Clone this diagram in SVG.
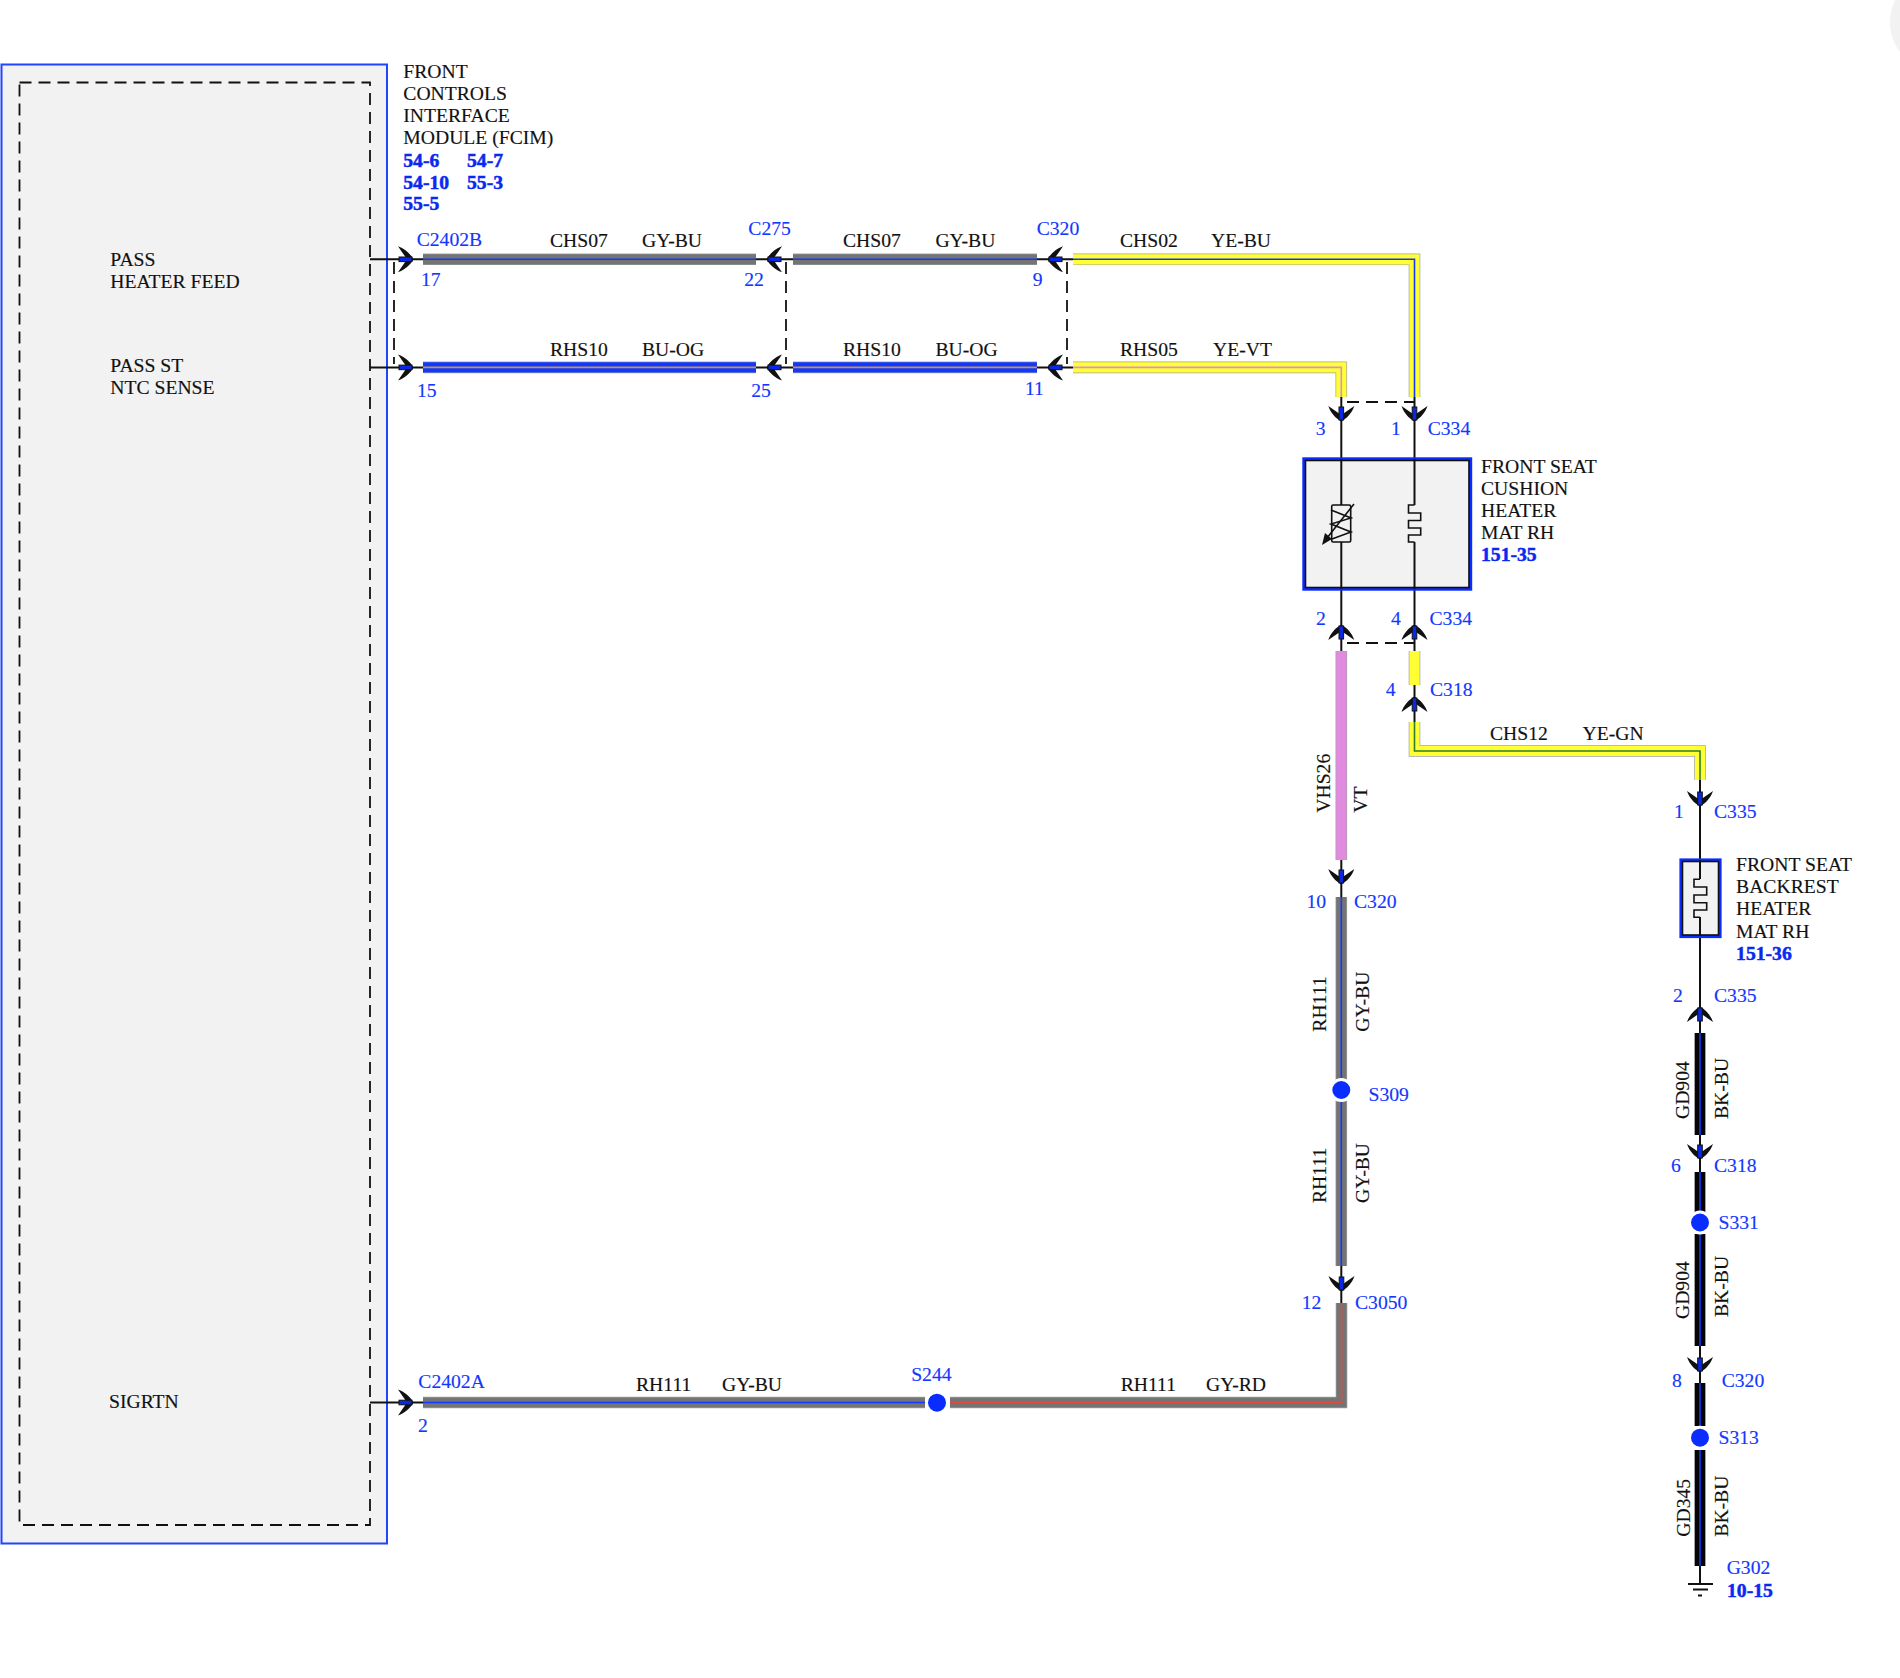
<svg xmlns="http://www.w3.org/2000/svg" width="1900" height="1678" viewBox="0 0 1900 1678">
<style>
text{font-family:"Liberation Serif","Times New Roman",serif;font-size:19.65px;fill:#111;stroke:#111;stroke-width:.15}
.b{fill:#1238ff;stroke:#1238ff}
.r{fill:#0a28f0;stroke:#0a28f0;stroke-width:.5;font-weight:bold}
polyline,path,line{fill:none}
.o{stroke:#a3a3a3;stroke-width:11.6;stroke-linejoin:miter}
.m{stroke-width:10.2;stroke-linejoin:miter}
.s{stroke-width:1.6;stroke-linejoin:miter}
.gy{stroke:#747474}.bu{stroke:#1238ff}.ye{stroke:#ffff33}.pk{stroke:#e08ae0}.vt{stroke:#e08ae0}.og{stroke:#c8963c}.gn{stroke:#2e7d32}.rd{stroke:#e2483c}.bk{stroke:#050505}
.t{stroke:#111;stroke-width:2}
.d{stroke:#111;stroke-width:1.8;stroke-dasharray:12 7}
.splice{fill:#0a2cff;stroke:#fff;stroke-width:3}
.pin{stroke:#111;stroke-width:1.6;fill:none}
</style>
<defs>
<g id="conn">
<path d="M1.5,0 C-2,-6 -7,-10.5 -14,-13 C-11,-8.5 -8,-4.5 -5,0 C-8,4.5 -11,8.5 -14,13 C-7,10.5 -2,6 1.5,0Z" style="fill:#111"/>
<rect x="-13" y="-2.3" width="13" height="4.6" fill="#0a28e0" stroke="#111" stroke-width="1"/>
</g>
</defs>
<circle cx="1940" cy="22" r="50" fill="#f2f2f2"/>

<g id="fcim">
<rect x="1.5" y="64.5" width="385.5" height="1479" fill="#f2f2f2" stroke="#1f45ff" stroke-width="2"/>
<rect x="19.5" y="82.5" width="350.5" height="1442.5" class="d" fill="none"/>
<g transform="translate(0 -.8)">
<text x="110.3" y="266.7">PASS</text>
<text x="110.3" y="288.5">HEATER FEED</text>
<text x="110.3" y="372.7">PASS ST</text>
<text x="110.3" y="395">NTC SENSE</text>
<text x="109" y="1409">SIGRTN</text>
<text x="403.3" y="78.5">FRONT</text>
<text x="403.3" y="100.5">CONTROLS</text>
<text x="403.3" y="122.5">INTERFACE</text>
<text x="403.3" y="145">MODULE (FCIM)</text>
<text class="r" x="403.3" y="167.5">54-6</text>
<text class="r" x="467" y="167.5">54-7</text>
<text class="r" x="403.3" y="189.5">54-10</text>
<text class="r" x="467" y="189.5">55-3</text>
<text class="r" x="403.3" y="211">55-5</text>
</g>
</g>

<g id="connectors">
<g id="thin-lines">
<line class="t" x1="370" y1="259.3" x2="423" y2="259.3"/>
<line class="t" x1="370" y1="367.4" x2="423" y2="367.4"/>
<line class="t" x1="370" y1="1402.5" x2="423" y2="1402.5"/>
<line class="t" x1="756" y1="259.3" x2="793" y2="259.3"/>
<line class="t" x1="756" y1="367.4" x2="793" y2="367.4"/>
<line class="t" x1="1037" y1="259.3" x2="1073" y2="259.3"/>
<line class="t" x1="1037" y1="367.4" x2="1073" y2="367.4"/>
<line class="t" x1="1341.3" y1="397" x2="1341.3" y2="505"/>
<line class="t" x1="1341.3" y1="542" x2="1341.3" y2="651"/>
<line class="t" x1="1414.5" y1="397" x2="1414.5" y2="505"/>
<line class="t" x1="1414.5" y1="542" x2="1414.5" y2="651"/>
<line class="t" x1="1414.5" y1="685" x2="1414.5" y2="722"/>
<line class="t" x1="1341.3" y1="860" x2="1341.3" y2="897"/>
<line class="t" x1="1341.3" y1="1266" x2="1341.3" y2="1303"/>
<line class="t" x1="1700" y1="780" x2="1700" y2="879"/>
<line class="t" x1="1700" y1="917" x2="1700" y2="1033"/>
<line class="t" x1="1700" y1="1135" x2="1700" y2="1172"/>
<line class="t" x1="1700" y1="1346" x2="1700" y2="1383"/>
<line class="t" x1="1700" y1="1566" x2="1700" y2="1584"/>
</g>
<g id="dashes">
<line class="d" x1="394" y1="262" x2="394" y2="364"/>
<line class="d" x1="786" y1="262" x2="786" y2="364"/>
<line class="d" x1="1067" y1="262" x2="1067" y2="364"/>
<line class="d" x1="1347" y1="402" x2="1414" y2="402"/>
<line class="d" x1="1347" y1="643" x2="1414" y2="643"/>
</g>
<g id="wires">
<polyline class="o" points="423,259.3 756,259.3"/><polyline class="m gy" points="423,259.3 756,259.3"/><polyline class="s bu" points="423,259.3 756,259.3"/>
<polyline class="o" points="793,259.3 1037,259.3"/><polyline class="m gy" points="793,259.3 1037,259.3"/><polyline class="s bu" points="793,259.3 1037,259.3"/>
<polyline class="o" points="1073,259.3 1414.5,259.3 1414.5,397"/><polyline class="m ye" points="1073,259.3 1414.5,259.3 1414.5,397"/><polyline class="s bu" points="1073,259.3 1414.5,259.3 1414.5,397"/>
<polyline class="o" points="423,367.4 756,367.4"/><polyline class="m bu" points="423,367.4 756,367.4"/><polyline class="s og" points="423,367.4 756,367.4"/>
<polyline class="o" points="793,367.4 1037,367.4"/><polyline class="m bu" points="793,367.4 1037,367.4"/><polyline class="s og" points="793,367.4 1037,367.4"/>
<polyline class="o" points="1073,367.4 1341.3,367.4 1341.3,397"/><polyline class="m ye" points="1073,367.4 1341.3,367.4 1341.3,397"/><polyline class="s pk" points="1073,367.4 1341.3,367.4 1341.3,397"/>
<polyline class="o" points="1341.3,651 1341.3,860"/><polyline class="m vt" points="1341.3,651 1341.3,860"/>
<polyline class="o" points="1414.5,651 1414.5,685"/><polyline class="m ye" points="1414.5,651 1414.5,685"/>
<polyline class="o" points="1414.5,722 1414.5,751 1700,751 1700,780"/><polyline class="m ye" points="1414.5,722 1414.5,751 1700,751 1700,780"/><polyline class="s gn" points="1414.5,722 1414.5,751 1700,751 1700,780"/>
<polyline class="o" points="1341.3,897 1341.3,1080"/><polyline class="m gy" points="1341.3,897 1341.3,1080"/><polyline class="s bu" points="1341.3,897 1341.3,1080"/>
<polyline class="o" points="1341.3,1100 1341.3,1266"/><polyline class="m gy" points="1341.3,1100 1341.3,1266"/><polyline class="s bu" points="1341.3,1100 1341.3,1266"/>
<polyline class="o" points="423,1402.5 925,1402.5"/><polyline class="m gy" points="423,1402.5 925,1402.5"/><polyline class="s bu" points="423,1402.5 925,1402.5"/>
<polyline class="o" points="950,1402.5 1341.5,1402.5 1341.5,1303"/><polyline class="m gy" points="950,1402.5 1341.5,1402.5 1341.5,1303"/><polyline class="s rd" points="950,1402.5 1341.5,1402.5 1341.5,1303"/>
<polyline class="o" points="1700,1033 1700,1135"/><polyline class="m bk" points="1700,1033 1700,1135"/><polyline class="s bu" points="1700,1033 1700,1135"/>
<polyline class="o" points="1700,1172 1700,1212"/><polyline class="m bk" points="1700,1172 1700,1212"/><polyline class="s bu" points="1700,1172 1700,1212"/>
<polyline class="o" points="1700,1234 1700,1346"/><polyline class="m bk" points="1700,1234 1700,1346"/><polyline class="s bu" points="1700,1234 1700,1346"/>
<polyline class="o" points="1700,1383 1700,1426"/><polyline class="m bk" points="1700,1383 1700,1426"/><polyline class="s bu" points="1700,1383 1700,1426"/>
<polyline class="o" points="1700,1450 1700,1566"/><polyline class="m bk" points="1700,1450 1700,1566"/><polyline class="s bu" points="1700,1450 1700,1566"/>
</g>
<g id="wire-labels">
<g transform="translate(0 -.8)">
<text x="550" y="248">CHS07</text><text x="642" y="248">GY-BU</text>
<text x="843" y="248">CHS07</text><text x="935.4" y="248">GY-BU</text>
<text x="1120" y="248">CHS02</text><text x="1211" y="248">YE-BU</text>
<text x="550" y="356.5">RHS10</text><text x="642" y="356.5">BU-OG</text>
<text x="843" y="356.5">RHS10</text><text x="935.4" y="356.5">BU-OG</text>
<text x="1120" y="356.5">RHS05</text><text x="1213" y="356.5">YE-VT</text>
<text x="1490" y="741">CHS12</text><text x="1582.5" y="741">YE-GN</text>
<text x="636" y="1392.3">RH111</text><text x="722" y="1392.3">GY-BU</text>
<text x="1120.7" y="1392.3">RH111</text><text x="1206" y="1392.3">GY-RD</text>
</g>
<text transform="translate(1329.5 812.7) rotate(-90)">VHS26</text>
<text transform="translate(1367 812.7) rotate(-90)">VT</text>
<text transform="translate(1326 1031.7) rotate(-90)">RH111</text>
<text transform="translate(1368.7 1031.7) rotate(-90)">GY-BU</text>
<text transform="translate(1326 1203) rotate(-90)">RH111</text>
<text transform="translate(1368.7 1203) rotate(-90)">GY-BU</text>
<text transform="translate(1689 1119) rotate(-90)">GD904</text>
<text transform="translate(1728 1119) rotate(-90)">BK-BU</text>
<text transform="translate(1689 1319) rotate(-90)">GD904</text>
<text transform="translate(1728 1317) rotate(-90)">BK-BU</text>
<text transform="translate(1689.5 1536.7) rotate(-90)">GD345</text>
<text transform="translate(1728 1536.7) rotate(-90)">BK-BU</text>
</g>
</g>

<g id="pins">
<use href="#conn" transform="translate(412 259.3)"/>
<use href="#conn" transform="translate(412 367.4)"/>
<use href="#conn" transform="translate(412 1402.5)"/>
<use href="#conn" transform="translate(768 259.3) rotate(180)"/>
<use href="#conn" transform="translate(768 367.4) rotate(180)"/>
<use href="#conn" transform="translate(1049 259.3) rotate(180)"/>
<use href="#conn" transform="translate(1049 367.4) rotate(180)"/>
<use href="#conn" transform="translate(1341.3 420) rotate(90)"/>
<use href="#conn" transform="translate(1414.5 420) rotate(90)"/>
<use href="#conn" transform="translate(1341.3 883) rotate(90)"/>
<use href="#conn" transform="translate(1341.5 1290) rotate(90)"/>
<use href="#conn" transform="translate(1700 805) rotate(90)"/>
<use href="#conn" transform="translate(1700 1158) rotate(90)"/>
<use href="#conn" transform="translate(1700 1371) rotate(90)"/>
<use href="#conn" transform="translate(1341.3 626) rotate(-90)"/>
<use href="#conn" transform="translate(1414.5 626) rotate(-90)"/>
<use href="#conn" transform="translate(1414.5 698) rotate(-90)"/>
<use href="#conn" transform="translate(1700 1008) rotate(-90)"/>
</g>

<g id="connector-labels" transform="translate(0 -.8)">
<text class="b" x="416.7" y="246.7">C2402B</text><text class="b" x="421" y="286.7">17</text><text class="b" x="417" y="398">15</text>
<text class="b" x="748.3" y="235.7">C275</text><text class="b" x="744.3" y="286.7">22</text><text class="b" x="751.2" y="398">25</text>
<text class="b" x="1036.7" y="235.5">C320</text><text class="b" x="1032.7" y="286.7">9</text><text class="b" x="1025" y="396">11</text>
<text class="b" x="1315.7" y="436">3</text><text class="b" x="1391" y="436">1</text><text class="b" x="1427.7" y="436">C334</text>
<text class="b" x="1316" y="626">2</text><text class="b" x="1391" y="626">4</text><text class="b" x="1429.5" y="626">C334</text>
<text class="b" x="1385.7" y="697.3">4</text><text class="b" x="1430" y="697.3">C318</text>
<text class="b" x="1306.5" y="909">10</text><text class="b" x="1354" y="909">C320</text>
<text class="b" x="1301.7" y="1310">12</text><text class="b" x="1355" y="1310">C3050</text>
<text class="b" x="418.3" y="1389.3">C2402A</text><text class="b" x="418" y="1433">2</text>
<text class="b" x="1674" y="819">1</text><text class="b" x="1714" y="819">C335</text>
<text class="b" x="1673" y="1002.7">2</text><text class="b" x="1714" y="1002.7">C335</text>
<text class="b" x="1671" y="1173">6</text><text class="b" x="1714" y="1173">C318</text>
<text class="b" x="1672" y="1388">8</text><text class="b" x="1721.7" y="1388">C320</text>
</g>

<g id="cushion-heater">
<rect x="1304" y="459" width="166.5" height="130" fill="#f2f2f2" stroke="#0a2cff" stroke-width="3.4"/>
<rect x="1305.5" y="460.5" width="163.5" height="127" fill="none" stroke="#111" stroke-width="1.6"/>
<line class="t" x1="1341.3" y1="459" x2="1341.3" y2="505"/>
<line class="t" x1="1341.3" y1="542" x2="1341.3" y2="589"/>
<line class="t" x1="1414.5" y1="459" x2="1414.5" y2="505"/>
<line class="t" x1="1414.5" y1="542" x2="1414.5" y2="589"/>
<rect x="1331.7" y="505" width="19" height="37" rx="1.5" class="pin"/>
<path class="pin" d="M1331,510 L1351,518 L1331,524 L1351,532 L1332,539"/>
<line class="pin" x1="1354" y1="504" x2="1327" y2="538"/>
<polygon points="1322,545 1325,533 1332,539" fill="#111"/>
<path class="pin" d="M1414.5,505 H1408.5 V513 H1420.7 V520.5 H1408.5 V528 H1420.7 V535 H1408.5 V542 H1414.5"/>
<g transform="translate(0 -.3)">
<text x="1481" y="473">FRONT SEAT</text>
<text x="1481" y="495">CUSHION</text>
<text x="1481" y="517">HEATER</text>
<text x="1481" y="539">MAT RH</text>
<text class="r" x="1481" y="561">151-35</text>
</g>
</g>

<g id="backrest-heater">
<rect x="1681" y="860" width="39" height="76.5" fill="#f2f2f2" stroke="#0a2cff" stroke-width="3.2"/>
<rect x="1682.5" y="861.5" width="36" height="73.5" fill="none" stroke="#111" stroke-width="1.6"/>
<line class="t" x1="1700" y1="860" x2="1700" y2="879"/>
<line class="t" x1="1700" y1="917" x2="1700" y2="936"/>
<path class="pin" d="M1700,879.3 H1694 V887 H1706.7 V895 H1694 V902.7 H1706.7 V910 H1694 V917.3 H1700"/>
<g transform="translate(-.6 -.5)">
<text x="1736.7" y="871.7">FRONT SEAT</text>
<text x="1736.7" y="893.7">BACKREST</text>
<text x="1736.7" y="915.7">HEATER</text>
<text x="1736.7" y="938">MAT RH</text>
<text class="r" x="1736.7" y="960.7">151-36</text>
</g>
</g>

<g id="S244"><circle class="splice" cx="937" cy="1402.7" r="10.5"/><text class="b" x="911.2" y="1381">S244</text></g>
<g id="S309"><circle class="splice" cx="1341.3" cy="1090" r="10.5"/><text class="b" x="1368.5" y="1101">S309</text></g>
<g id="S331"><circle class="splice" cx="1700" cy="1222.5" r="10.5"/><text class="b" x="1718.5" y="1229">S331</text></g>
<g id="S313"><circle class="splice" cx="1700" cy="1437.7" r="10.5"/><text class="b" x="1718.5" y="1444">S313</text></g>

<g id="G302">
<line class="t" x1="1688" y1="1584" x2="1713" y2="1584"/>
<line class="t" x1="1693" y1="1589.5" x2="1708" y2="1589.5"/>
<line class="t" x1="1698" y1="1595.5" x2="1702" y2="1595.5"/>
<text class="b" x="1726.7" y="1574">G302</text>
<text class="r" x="1727" y="1596.5">10-15</text>
</g>
</svg>
